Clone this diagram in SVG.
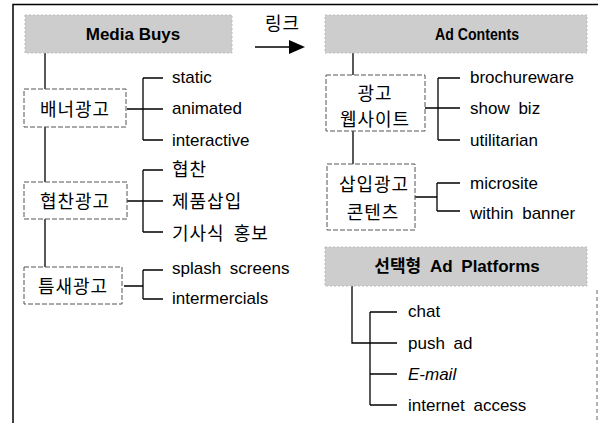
<svg xmlns="http://www.w3.org/2000/svg" width="600" height="423" viewBox="0 0 600 423">
<style>
.t{font-family:"Liberation Sans",Arial,sans-serif;font-size:17px;fill:#000;dominant-baseline:central}
.k{font-family:"Noto Sans CJK KR","Liberation Sans",sans-serif;font-size:18px;fill:#000;dominant-baseline:central;letter-spacing:1px}
.h{font-family:"Liberation Sans","Noto Sans CJK KR",sans-serif;font-size:17px;font-weight:bold;fill:#000;dominant-baseline:central;text-anchor:middle}
.g{fill:#cdcdcd;stroke:#bbb;stroke-width:1;stroke-dasharray:2 2}
.d{fill:#fff;stroke:#555;stroke-width:1;stroke-dasharray:5 2}
.c{fill:none;stroke:#000;stroke-width:1.3}
</style>
<defs>
<marker id="ah" markerWidth="16" markerHeight="14" refX="1" refY="7" orient="auto" markerUnits="userSpaceOnUse" overflow="visible"><path d="M0,0 L16,7 L0,14 Z" fill="#000"/></marker>
</defs>
<rect width="600" height="423" fill="#fff"/>
<g id="frame">
<path d="M13,423 L13,4.5 L598,4.5" fill="none" stroke="#000" stroke-width="1.5"/>
<path d="M597,290 L597,423" fill="none" stroke="#666" stroke-width="1" stroke-dasharray="4 3"/>
</g>
<g id="connectors">
<path class="c" d="M45,53 V89 M45,127 V182 M45,219 V267"/>
<path class="c" d="M127,109 H143 M143,78 V140 M143,78 H163 M143,109 H163 M143,140 H163"/>
<path class="c" d="M127,201 H143 M143,170 V232 M143,170 H163 M143,201 H163 M143,232 H163"/>
<path class="c" d="M124,286 H143 M143,270 V299 M143,270 H163 M143,299 H163"/>
<path class="c" d="M353,53 V75 M353,131 V164"/>
<path class="c" d="M425,108 H438 M438,78 V140 M438,78 H460 M438,108 H460 M438,140 H460"/>
<path class="c" d="M415,197 H437 M437,183 V211 M437,183 H460 M437,211 H460"/>
<path class="c" d="M352,286 V343 H370 M370,312 V405 M370,312 H397 M370,343 H397 M370,374 H397 M370,405 H397"/>
<path d="M255,47 H290" stroke="#000" stroke-width="1.5" marker-end="url(#ah)"/>
</g>
<g id="link-label"><text class="k" x="265" y="22">링크</text></g>
<g id="media-buys"><rect class="g" x="25" y="15" width="207" height="38"/><text class="h" x="133" y="34">Media Buys</text></g>
<g id="banner"><rect class="d" x="24" y="89" width="102" height="38"/><text class="k" x="75" y="108" text-anchor="middle">배너광고</text></g>
<g id="banner-items"><text class="t" x="172" y="77">static</text><text class="t" x="172" y="108">animated</text><text class="t" x="172" y="140">interactive</text></g>
<g id="sponsor"><rect class="d" x="24" y="182" width="103" height="37"/><text class="k" x="75" y="200" text-anchor="middle">협찬광고</text></g>
<g id="sponsor-items"><text class="k" x="172" y="168">협찬</text><text class="k" x="172" y="200">제품삽입</text><text class="k" x="172" y="232" word-spacing="4">기사식 홍보</text></g>
<g id="niche"><rect class="d" x="24" y="267" width="98" height="37"/><text class="k" x="73" y="285" text-anchor="middle">틈새광고</text></g>
<g id="niche-items"><text class="t" x="172" y="268" word-spacing="4">splash screens</text><text class="t" x="172" y="298">intermercials</text></g>
<g id="ad-contents"><rect class="g" x="325" y="15" width="262" height="38"/><text class="h" x="477" y="34" textLength="84" lengthAdjust="spacingAndGlyphs">Ad Contents</text></g>
<g id="website"><rect class="d" x="326" y="75" width="99" height="56"/><text class="k" x="375" y="92" text-anchor="middle" letter-spacing="4">광고</text><text class="k" x="375" y="118" text-anchor="middle">웹사이트</text></g>
<g id="website-items"><text class="t" x="470" y="77">brochureware</text><text class="t" x="470" y="108" word-spacing="4">show biz</text><text class="t" x="470" y="140">utilitarian</text></g>
<g id="insert"><rect class="d" x="327" y="164" width="88" height="66"/><text class="k" x="374" y="183" text-anchor="middle">삽입광고</text><text class="k" x="373" y="211" text-anchor="middle">콘텐츠</text></g>
<g id="insert-items"><text class="t" x="470" y="183">microsite</text><text class="t" x="470" y="213" word-spacing="4">within banner</text></g>
<g id="platforms"><rect class="g" x="325" y="247" width="262" height="39"/><text class="h" x="457" y="266" word-spacing="4">선택형 Ad Platforms</text></g>
<g id="platform-items"><text class="t" x="408" y="311">chat</text><text class="t" x="408" y="343" word-spacing="4">push ad</text><text class="t" x="408" y="374" font-style="italic">E-mail</text><text class="t" x="408" y="405" word-spacing="4">internet access</text></g>
</svg>
